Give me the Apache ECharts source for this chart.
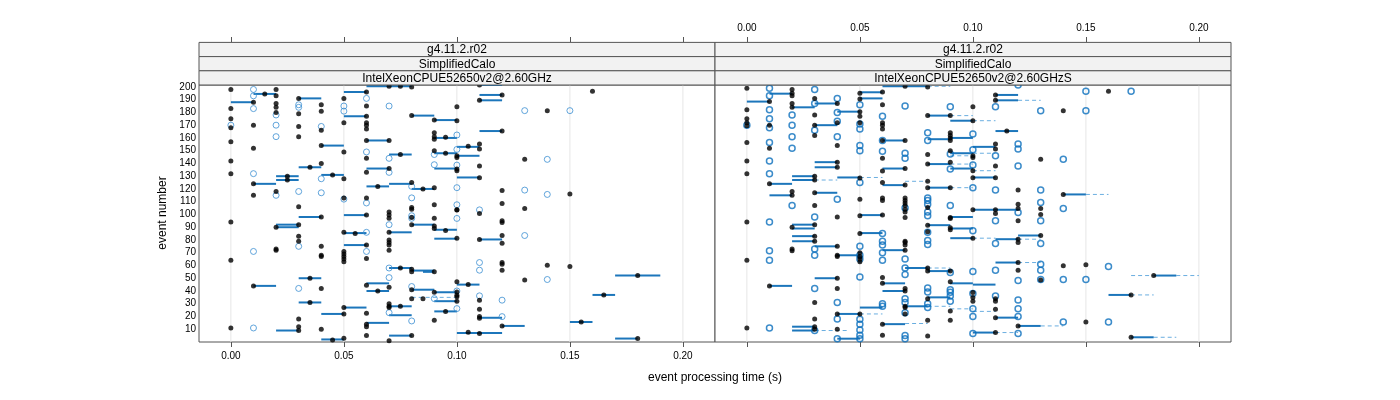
<!DOCTYPE html>
<html><head><meta charset="utf-8">
<script src="https://cdn.jsdelivr.net/npm/echarts@6/dist/echarts.min.js"></script>
<style>html,body{margin:0;padding:0;background:#fff}#c{width:1400px;height:400px}</style>
</head><body><div id="c"></div>
<script>
const xTicks = [0, 0.05, 0.10, 0.15, 0.20];
const yTicks = [10,20,30,40,50,60,70,80,90,100,110,120,130,140,150,160,170,180,190,200];
const stripLevels = ["g4.11.2.r02", "SimplifiedCalo"];
const panelNames = ["IntelXeonCPUE52650v2@2.60GHz", "IntelXeonCPUE52650v2@2.60GHzS"];

const leftFilled = [
[0,198],[0,183],[0,175],[0,168],[0,157],[0,142],[0,132],[0,94],[0,64],[0,11],
[0.01,188],[0.01,170],[0.01,152],[0.01,124],[0.01,115],[0.01,44],[0.015,194.5],
[0.02,198],[0.02,193],[0.02,187],[0.02,184],[0.02,180],[0.02,118],[0.02,90],[0.02,73],[0.02,72],
[0.025,130],[0.025,127],
[0.03,191],[0.03,179],[0.03,169],[0.03,161],[0.03,106],[0.03,92],[0.03,83],[0.03,79],[0.03,18],[0.03,12],[0.03,9],
[0.035,137],[0.035,50],[0.035,31],
[0.04,186],[0.04,181],[0.04,166],[0.04,154],[0.04,140],[0.04,98],[0.04,75],[0.04,68],[0.04,67],[0.04,42],[0.04,10],
[0.045,131],[0.045,1.6],
[0.05,191],[0.05,172],[0.05,149],[0.05,128],[0.05,113],[0.05,86],[0.05,71],[0.05,69],[0.05,67],[0.05,65],[0.05,63],[0.05,27],[0.05,22],[0.05,3],
[0.055,85],
[0.06,196],[0.06,185],[0.06,177],[0.06,172],[0.06,170],[0.06,167],[0.06,158],[0.06,144],[0.06,133],[0.06,113],[0.06,99.5],[0.06,76],[0.06,65.5],[0.06,44.5],[0.06,22.5],[0.06,14],[0.06,12],[0.06,5],
[0.065,122],[0.065,40],
[0.07,200.5],[0.07,158],[0.07,136],[0.07,102],[0.07,99.5],[0.07,97],[0.07,86],[0.07,80],[0.07,78],[0.07,76],[0.07,72],[0.07,43],[0.07,30],[0.07,28],[0.07,27],[0.07,1],
[0.075,200.5],[0.075,147],[0.075,58],[0.075,28],
[0.08,200],[0.08,177.5],[0.08,125],[0.08,105.5],[0.08,104],[0.08,97.7],[0.08,92],[0.08,57],[0.08,55],[0.08,41],[0.08,34],[0.08,5],
[0.085,120],[0.085,34],
[0.09,174],[0.09,164],[0.09,161],[0.09,159],[0.09,150],[0.09,121],[0.09,107.6],[0.09,97],[0.09,91],[0.09,89],[0.09,55],[0.09,39],[0.09,17],
[0.095,160.5],[0.095,148],[0.095,87.5],[0.095,23.9],
[0.10,184.5],[0.10,173.5],[0.10,146],[0.10,144.7],[0.10,135.6],[0.10,134.3],[0.10,103.6],[0.10,103.4],[0.10,81.4],[0.10,47.2],[0.10,39.3],[0.10,36.7],[0.10,35.4],[0.10,32],
[0.105,153.4],[0.105,45],[0.105,7.6],
[0.11,201.5],[0.11,189.5],[0.11,155.2],[0.11,151.3],[0.11,137.9],[0.11,128.8],[0.11,100.8],[0.11,80.4],[0.11,32.8],[0.11,25.7],[0.11,19.9],[0.11,18.6],[0.11,6.6],
[0.12,193.7],[0.12,165.4],[0.12,118.8],[0.12,108.6],[0.12,95],[0.12,93.7],[0.12,83.5],[0.12,77.5],[0.12,62.3],[0.12,61],[0.12,56.3],[0.12,12.6],
[0.13,143.2],[0.13,104.7],[0.13,48.7],
[0.14,181.4],[0.14,60.2],
[0.15,116],[0.15,59.2],[0.155,15.7],[0.16,196.6],[0.165,36.9],[0.18,52.1],[0.18,2.7]
];
const leftOpen = [
[0,170],
[0.01,198],[0.01,193],[0.01,183],[0.01,132],[0.01,71],[0.01,11],
[0.02,178],[0.02,170],[0.02,161],[0.02,115],
[0.03,186],[0.03,184],[0.03,118],[0.03,75],[0.03,42],
[0.04,169],[0.04,128],[0.04,117],
[0.05,185],[0.05,181],[0.05,112],
[0.06,191],[0.06,149],[0.06,109],[0.06,86],[0.06,71],
[0.07,185],[0.07,144],[0.07,133],[0.07,92],[0.07,58],[0.07,50.5],[0.07,23],
[0.08,122],[0.08,113],[0.08,99],[0.08,97],[0.08,43.5],[0.08,16.5],
[0.09,147],[0.09,139],[0.09,34],
[0.10,162.3],[0.10,151],[0.10,138.7],[0.10,121],[0.10,107.6],[0.10,96.9],[0.10,40],[0.10,26.2],
[0.11,103.6],[0.11,62.3],[0.11,56.3],[0.11,36.2],
[0.12,32.8],[0.12,19.9],
[0.13,181.4],[0.13,119.1],[0.13,83.5],
[0.14,143.2],[0.14,115.7],[0.14,49],
[0.15,181.4]
];
const leftSeg = [
[0,0.01,188],[0.01,0.02,194.5],[0.01,0.02,124],[0.01,0.02,44],
[0.02,0.03,130],[0.02,0.03,127],[0.02,0.03,92],[0.02,0.03,90],[0.02,0.03,9],
[0.03,0.04,191],[0.03,0.04,137],[0.03,0.04,98],[0.03,0.04,50],[0.03,0.04,31],
[0.04,0.05,131],[0.04,0.05,154],[0.04,0.05,22],[0.04,0.05,2],
[0.05,0.06,196],[0.05,0.06,177],[0.05,0.06,99.5],[0.05,0.06,85.4],[0.05,0.06,76],[0.05,0.06,27],
[0.06,0.07,158],[0.06,0.07,136],[0.06,0.07,122],[0.06,0.07,46],[0.06,0.07,40],[0.06,0.07,15],
[0.06,0.08,200.5],[0.07,0.08,147],[0.07,0.08,124],[0.07,0.08,86],[0.07,0.08,58],[0.07,0.08,28],[0.07,0.08,21],[0.07,0.08,5],
[0.08,0.09,177.5],[0.08,0.09,120],[0.08,0.09,92],[0.08,0.09,56],[0.08,0.09,41],[0.085,0.09,55],
[0.09,0.10,174],[0.09,0.10,160],[0.09,0.10,148],[0.09,0.10,136],[0.09,0.10,88],[0.09,0.10,81],[0.09,0.10,39],[0.09,0.10,32],[0.09,0.10,24],
[0.10,0.11,153],[0.10,0.11,146],[0.10,0.11,129],[0.10,0.11,45],[0.10,0.12,7],
[0.11,0.12,201.5],[0.11,0.12,193.7],[0.11,0.12,189.5],[0.11,0.12,165.4],[0.11,0.12,80.4],[0.11,0.12,19],
[0.12,0.13,12.6],[0.15,0.16,15.7],[0.16,0.17,36.9],[0.17,0.19,52.1],[0.17,0.18,2.7]
];
const leftDash = [[0.08,0.10,35]];

const rightFilled = [
[0,199],[0,182],[0,175],[0,172],[0,169.6],[0,156.5],[0,142],[0,132],[0,94],[0,64],[0,11],
[0.01,188.5],[0.01,170],[0.01,152],[0.01,124],[0.01,44],
[0.02,198],[0.02,195],[0.02,193],[0.02,187],[0.02,184],[0.02,118],[0.02,115],[0.02,90],[0.02,73],[0.02,71.5],
[0.03,191],[0.03,178],[0.03,170],[0.03,162],[0.03,130],[0.03,127],[0.03,117],[0.03,107],[0.03,92],[0.03,83],[0.03,79],[0.03,31],[0.03,18],[0.03,12],[0.03,10],
[0.04,187],[0.04,172],[0.04,154],[0.04,141],[0.04,137],[0.04,98],[0.04,75],[0.04,68],[0.04,67],[0.04,50],[0.04,42],[0.04,22],[0.04,10],
[0.05,195],[0.05,190.5],[0.05,180.6],[0.05,177],[0.05,172],[0.05,128.5],[0.05,112],[0.05,99],[0.05,85],[0.05,70],[0.05,67],[0.05,65],[0.05,63],[0.05,22],
[0.06,196],[0.06,186],[0.06,172],[0.06,170],[0.06,167],[0.06,158],[0.06,144],[0.06,134],[0.06,125],[0.06,113],[0.06,111],[0.06,99.5],[0.06,50.5],[0.06,46],[0.06,14],[0.06,5.3],
[0.07,200.5],[0.07,158],[0.07,136],[0.07,123],[0.07,113],[0.07,111],[0.07,109],[0.07,107],[0.07,104],[0.07,102],[0.07,97.7],[0.07,79],[0.07,78],[0.07,76],[0.07,72],[0.07,42],[0.07,40],[0.07,28],[0.07,27],[0.07,22],
[0.08,200],[0.08,177.5],[0.08,147],[0.08,139.5],[0.08,126],[0.08,121],[0.08,105.5],[0.08,91.6],[0.08,86.4],[0.08,58],[0.08,55.6],[0.08,34],[0.08,17],[0.08,4.7],
[0.09,177.5],[0.09,164],[0.09,162],[0.09,160],[0.09,158],[0.09,150],[0.09,141],[0.09,121],[0.09,97.6],[0.09,96.9],[0.09,89.6],[0.09,88],[0.09,55.6],[0.09,47.2],[0.09,24.4],[0.09,17],
[0.10,184.5],[0.10,173.5],[0.10,146],[0.10,144.7],[0.10,134.3],[0.10,128.8],[0.10,103.6],[0.10,81.4],[0.10,38.8],[0.10,34.8],[0.10,32],
[0.11,193.7],[0.11,189.5],[0.11,155.2],[0.11,151.3],[0.11,137.9],[0.11,128.8],[0.11,103.6],[0.11,100.8],[0.11,34],[0.11,32],[0.11,25.7],[0.11,19.1],[0.11,7.4],
[0.115,165.4],
[0.12,119.1],[0.12,108],[0.12,104.7],[0.12,95],[0.12,80.6],[0.12,78],[0.12,62.3],[0.12,56.3],[0.12,12.6],
[0.13,143.2],[0.13,104.7],[0.13,100],[0.13,83.5],[0.13,48.7],
[0.14,181.4],[0.14,115.7],[0.14,59.7],
[0.15,60.5],[0.15,15.7],[0.16,196.6],[0.17,36.9],[0.17,3.7],[0.18,52.1]
];
const rightOpen = [
[0,170],
[0.01,199],[0.01,193],[0.01,182],[0.01,175],[0.01,168],[0.01,156.5],[0.01,142],[0.01,132],[0.01,94],[0.01,71.5],[0.01,64],[0.01,11],
[0.02,178],[0.02,170],[0.02,161],[0.02,152],[0.02,107],
[0.03,198],[0.03,187],[0.03,166],[0.03,98],[0.03,73],[0.03,68],[0.03,42],[0.03,9],
[0.04,191],[0.04,180],[0.04,173],[0.04,161],[0.04,112],[0.04,31],[0.04,18],[0.04,2.6],
[0.05,186],[0.05,171],[0.05,167],[0.05,154],[0.05,150],[0.05,125],[0.05,75],[0.05,68],[0.05,65],[0.05,51],[0.05,17.8],[0.05,14],[0.05,9.5],[0.05,5.3],[0.05,2.6],
[0.06,177],[0.06,158],[0.06,149.5],[0.06,85],[0.06,79],[0.06,76],[0.06,70],[0.06,64],[0.06,30],[0.06,28],
[0.07,185],[0.07,148],[0.07,144],[0.07,105],[0.07,65],[0.07,58],[0.07,53],[0.07,34],[0.07,31],[0.07,23],[0.07,5],[0.07,2.6],
[0.08,164],[0.08,158],[0.08,113],[0.08,111],[0.08,108],[0.08,102],[0.08,99],[0.08,86],[0.08,79.6],[0.08,76.4],[0.08,42.4],[0.08,39.3],[0.08,30],[0.08,27],
[0.09,184.5],[0.09,147.4],[0.09,135.6],[0.09,107],[0.09,54.5],[0.09,41],[0.09,39],[0.09,36],[0.09,32],
[0.10,163],[0.10,150.8],[0.10,138.7],[0.10,121],[0.10,87.2],[0.10,55.3],[0.10,38],[0.10,26],[0.10,20],[0.10,6.6],
[0.11,184.5],[0.11,146],[0.11,119.1],[0.11,95],[0.11,77.2],[0.11,56.3],[0.11,36],
[0.12,201.5],[0.12,155.2],[0.12,151.3],[0.12,137.9],[0.12,101.6],[0.12,48.2],[0.12,33],[0.12,26],[0.12,20],[0.12,6.6],
[0.13,181.4],[0.13,119.1],[0.13,109.4],[0.13,95],[0.13,77.2],[0.13,61],[0.13,56.3],[0.13,49],
[0.14,143.2],[0.14,104.7],[0.14,49],[0.14,15.7],
[0.15,196.6],[0.15,181.4],[0.15,49],[0.16,59.2],[0.16,15.7],[0.17,196.6]
];
const rightSeg = [
[0,0.01,188.5],[0.01,0.02,194.7],[0.01,0.02,124],[0.01,0.02,115],[0.01,0.02,44],
[0.02,0.03,184],[0.02,0.03,130],[0.02,0.03,127],[0.02,0.03,92],[0.02,0.03,89],[0.02,0.03,83],[0.02,0.03,79],[0.02,0.03,12],[0.02,0.03,9],
[0.03,0.04,187],[0.03,0.04,170],[0.03,0.04,117],[0.03,0.04,141],[0.03,0.04,137],[0.03,0.04,75],[0.03,0.04,50],
[0.04,0.05,180.6],[0.04,0.05,129],[0.04,0.05,68],[0.04,0.05,22],[0.04,0.05,2.6],
[0.05,0.06,195.8],[0.05,0.06,191],[0.05,0.06,99.5],[0.05,0.06,85.4],[0.05,0.06,27],
[0.06,0.07,158],[0.06,0.07,136],[0.06,0.07,123],[0.06,0.07,72],[0.06,0.07,46],[0.06,0.07,40],[0.06,0.07,14],
[0.06,0.08,200.5],[0.07,0.08,58],[0.07,0.08,28],
[0.08,0.09,177.5],[0.08,0.09,159],[0.08,0.09,139.5],[0.08,0.09,121],[0.08,0.09,91.6],[0.08,0.09,55.6],[0.08,0.09,35],
[0.09,0.10,173.5],[0.09,0.10,160],[0.09,0.10,148],[0.09,0.10,136],[0.09,0.10,98],[0.09,0.10,89],[0.09,0.10,81.4],[0.09,0.10,46],
[0.10,0.11,153],[0.10,0.11,129],[0.10,0.11,45],[0.10,0.11,7.4],[0.10,0.12,103.6],
[0.11,0.12,193.7],[0.11,0.12,189.5],[0.11,0.12,165.4],[0.11,0.12,80.6],[0.11,0.12,62.3],[0.11,0.12,19.1],
[0.12,0.13,83.5],[0.12,0.13,12.6],[0.14,0.15,115.7],[0.16,0.17,36.9],[0.17,0.18,3.7],[0.18,0.19,52.1]
];
const rightDash = [
[0.03,0.04,127],[0.03,0.045,9],[0.05,0.06,129],[0.05,0.06,22],[0.07,0.08,14.5],[0.08,0.09,200.5],[0.07,0.08,126],
[0.08,0.09,58],[0.08,0.09,28],[0.09,0.10,177.5],[0.09,0.10,146],[0.09,0.10,139.5],[0.10,0.11,173.5],[0.10,0.11,148],
[0.10,0.11,134.3],[0.10,0.11,81.4],[0.10,0.11,24],[0.09,0.10,121],[0.09,0.10,26],[0.11,0.12,7.4],[0.12,0.13,189.5],
[0.12,0.13,80.6],[0.12,0.13,62.3],[0.13,0.14,12.6],[0.15,0.16,115.7],[0.17,0.18,36.9],[0.18,0.19,3.7],[0.17,0.18,52.1],[0.19,0.20,52.1]
];

const FONT = 'Liberation Sans, Arial, sans-serif';
const X_MIN = -0.0141, X_MAX = 0.2142, Y_MIN = 0, Y_MAX = 201.5;
const panels = [{left:199, width:516}, {left:715, width:516}];
const TOP = 85, H = 257;

function segSeries(data, idx, stroke, width, dash, z) {
  return {
    type:'custom', xAxisIndex: idx*2, yAxisIndex: idx, z: z, silent:true,
    encode:{x:[0,1], y:2},
    data: data,
    renderItem: function(params, api){
      const a = api.coord([api.value(0), api.value(2)]);
      const b = api.coord([api.value(1), api.value(2)]);
      return {type:'line', shape:{x1:a[0],y1:a[1],x2:b[0],y2:b[1]},
        style:{stroke:stroke, lineWidth:width, lineDash: dash ? [4,3] : null}};
    }
  };
}
function gridSeries(idx) {
  return {
    type:'custom', xAxisIndex: idx*2, yAxisIndex: idx, z:1, silent:true,
    encode:{x:0},
    data: xTicks.map(v=>[v]),
    renderItem: function(params, api){
      const cs = params.coordSys;
      const p = api.coord([api.value(0), Y_MIN]);
      return {type:'line', shape:{x1:p[0],y1:cs.y,x2:p[0],y2:cs.y+cs.height},
        style:{stroke:'#e6e6e6', lineWidth:1}};
    }
  };
}
function scatter(data, idx, open, z) {
  return {
    type:'scatter', xAxisIndex: idx*2, yAxisIndex: idx, z:z, silent:true,
    data: data, symbol:'circle', symbolSize: open ? 6 : 5,
    itemStyle: open ? {color:'rgba(0,0,0,0)', borderColor: idx===0 ? '#3b8fd2' : '#0b6fbd', borderWidth: idx===0 ? 1 : 1.5}
                    : {color:'#000'}
  };
}

const grids = panels.map(p => ({left:p.left, top:TOP, width:p.width, height:H, show:true, borderColor:'#555', borderWidth:1, backgroundColor:'#fff'}));
const xAxes = [];
panels.forEach((p, i) => {
  const lab = {fontSize:10, color:'#000', fontFamily:FONT, customValues:xTicks, formatter:v=>v.toFixed(2)};
  xAxes.push({type:'value', gridIndex:i, position:'bottom', min:X_MIN, max:X_MAX,
    axisLine:{show:false}, splitLine:{show:false},
    axisTick:{show:true, customValues:xTicks, length:5, lineStyle:{color:'#555'}},
    axisLabel: Object.assign({show: i===0, margin:9}, lab)});
  xAxes.push({type:'value', gridIndex:i, position:'top', offset:43, min:X_MIN, max:X_MAX,
    axisLine:{show:false}, splitLine:{show:false},
    axisTick:{show:true, customValues:xTicks, length:5, lineStyle:{color:'#555'}},
    axisLabel: Object.assign({show: i===1, margin:9}, lab)});
});
const yAxes = panels.map((p, i) => ({type:'value', gridIndex:i, min:Y_MIN, max:Y_MAX,
  axisLine:{show:false}, splitLine:{show:false}, axisTick:{show:false},
  axisLabel:{show: i===0, customValues:yTicks, fontSize:10, color:'#000', fontFamily:FONT, margin:3}}));

const graphics = [];
panels.forEach((p, i) => {
  const rows = stripLevels.concat([panelNames[i]]);
  const sh = 14.2, sy = 42.4;
  rows.forEach((t, r) => {
    graphics.push({type:'rect', shape:{x:p.left, y:sy + r*sh, width:p.width, height:sh},
      style:{fill:'#f2f2f2', stroke:'#555', lineWidth:1}, silent:true, z:10});
    graphics.push({type:'text', x:p.left + p.width/2, y:sy + r*sh + sh/2 + 0.5,
      style:{text:t, fontSize:12, fontFamily:FONT, fill:'#000', align:'center', verticalAlign:'middle'}, silent:true, z:11});
  });
});
graphics.push({type:'text', x:715, y:378, style:{text:'event processing time (s)', fontSize:12, fontFamily:FONT, fill:'#000', align:'center', verticalAlign:'middle'}});
graphics.push({type:'text', x:163, y:213, rotation:Math.PI/2, style:{text:'event number', fontSize:12, fontFamily:FONT, fill:'#000', align:'center', verticalAlign:'middle'}});

const series = [
  gridSeries(0), gridSeries(1),
  segSeries(leftDash, 0, '#6aaee0', 1, true, 2),
  segSeries(rightDash, 1, '#6aaee0', 1, true, 2),
  segSeries(leftSeg, 0, '#1c76bb', 2, false, 3),
  segSeries(rightSeg, 1, '#1c76bb', 2, false, 3),
  scatter(leftOpen, 0, true, 4), scatter(rightOpen, 1, true, 4),
  scatter(leftFilled, 0, false, 5), scatter(rightFilled, 1, false, 5)
];

const chart = echarts.init(document.getElementById('c'), null, {renderer:'canvas'});
chart.setOption({animation:false, backgroundColor:'#fff', grid:grids, xAxis:xAxes, yAxis:yAxes, series:series, graphic:graphics});
</script></body></html>
